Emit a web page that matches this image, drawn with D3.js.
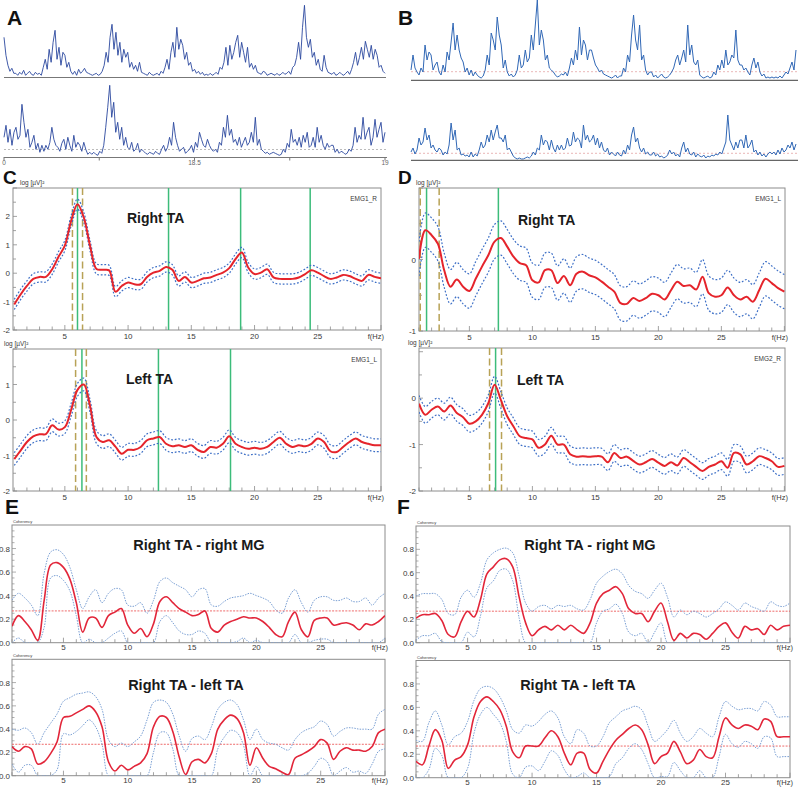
<!DOCTYPE html>
<html><head><meta charset="utf-8">
<script src="https://cdn.jsdelivr.net/npm/d3@7"></script>
<style>body{margin:0;background:#fff}svg{display:block;font-family:"Liberation Sans",Arial,sans-serif}</style>
</head><body><svg id="c" width="798" height="788"></svg>
<script>
// ---------- DATA ----------
// Panel A / B : rectified EMG envelopes (arbitrary units, sampled evenly)
const aTop = [40,22,12,6,9,4, 4,2,5,3,7,2,4,6,3,2,5,3,4,2, 10,18,8,28,15,35,47,18,30,12,25,22,10,15,6, 3,6,2,8,4,6,9,5,4,3,2,3,4,2,3,6, 12,25,15,40,53,28,45,22,35,15,28,20,25,10,15,8,12,6,15,5, 4,3,2,5,3,2,3,4,2,6,4,10, 18,8,25,35,20,50,28,38,32,18,25,12,15,6,8, 4,6,3,5,2,3,2,4,2,3,5,3,10, 8,15,30,12,32,18,25,35,42,20,35,25,15,30,10,14,8, 12,5,4,3,6,5,2,3,4,3,2,4,2,3,5,3,4,6,3,10, 12,20,35,18,50,72,40,30,38,20,25,12,18,8,6,22,10,5, 4,3,5,2,3,5,3,2,4,6,3,8, 15,25,12,20,30,18,36,28,20,32,18,28,22,10,12,6,4];
const aBot = [20,32,15,28,12,25,30,18,22,53,35,20,28,10,15, 22,8,14,5,12,6,12,8,15,30,18,12,10,6,14, 18,8,20,12,6,22,10,15,12,6,15,8,3,5,3, 5,3,2,6,4,12,30,50,72,40,55,25,35,18,30, 12,20,10,8,15,6,8,14,5,8,6,4,3,5,4, 3,6,4,3,8,12,6,10,20,12,35,20,12,6,8, 10,4,6,8,12,5,15,10,25,18,12,10,18,12,8, 6,8,5,15,12,30,20,42,22,28,15,18,12,20,10, 15,20,12,15,25,15,40,12,18,8,6,4,5,3,4, 5,4,3,2,3,8,5,14,10,28,15,18,12,20,10, 22,15,25,10,12,20,10,30,15,22,12,8,14,10,12, 12,5,8,4,6,5,3,4,8,6,12,30,15,22,18, 40,18,25,30,12,20,38,20,28,35,15,25];
const aTimeLabels = ["0","18.5","19"];
const bTop = [10,25,12,8,5,12,8,35,20,28,25,10,15,18,8, 5,15,8,28,20,38,57,30,45,30,22,18,8,12,5, 10,4,8,5,3,2,4,10,25,15,47,40,30,63,45, 35,12,20,8,4,6,3,5,10,25,12,15,30,18,22, 45,30,55,80,35,50,40,20,25,12,10,8,5,3,4, 6,5,8,4,12,22,15,30,20,53,25,40,35,20,30, 30,22,15,12,8,10,6,5,4,3,2,3,5,2,4, 4,12,8,25,18,45,65,40,30,55,20,25,10,5,8, 8,3,5,2,4,6,3,2,3,5,8,12,20,25,15, 22,30,18,55,25,35,18,15,20,5,3,2,3,4,2, 3,8,5,15,10,20,12,30,15,18,25,22,50,20,15, 15,10,12,8,5,15,22,12,18,8,4,6,2,3,2, 3,2,3,2,4,2,5,8,6,12,18,10,30];
const bBot = [8,12,6,10,22,15,18,32,20,25,12,15,10,8,12, 10,5,8,6,15,37,20,30,10,12,5,6,4,5,3, 8,3,6,4,10,18,12,15,25,18,30,20,28,35,22, 22,18,25,10,12,8,4,2,1,2,1,1,2,3,2, 4,8,5,12,10,25,15,20,18,10,20,12,8,15,10, 15,10,12,22,14,15,28,18,22,20,12,35,20,25,18, 20,25,15,22,12,18,10,8,12,5,8,6,4,8,5, 4,10,6,15,10,25,33,18,22,12,8,12,6,8,5, 5,8,4,6,3,4,2,3,5,10,6,8,4,6,3, 12,18,8,12,6,5,8,3,6,4,3,5,2,4,3, 5,4,6,5,8,6,12,18,45,20,15,10,18,12,20, 20,12,25,12,15,20,8,10,5,8,4,6,3,6,8, 6,8,5,10,6,12,8,10,15,12,18,10,16];

// frequency grid (Hz) shared by panels C-F
const freqs = [1,1.5,2,2.5,3,3.5,4,4.5,5,5.5,6,6.5,7,7.5,8,8.5,9,9.5,10,10.5,11,11.5,12,12.5,13,13.5,14,14.5,15,15.5,16,16.5,17,17.5,18,18.5,19,19.5,20,20.5,21,21.5,22,22.5,23,23.5,24,24.5,25,25.5,26,26.5,27,27.5,28,28.5,29,29.5,30];

// Panel C / D : log power spectra (mean) and confidence half-width
const cTopMean = [-1.1,-0.75,-0.45,-0.2,-0.13,-0.13,0.14,0.58,0.97,1.85, 2.43,1.96,0.95,0.15,0.12,0.1,-0.65,-0.45,-0.33,-0.39, -0.39,-0.13,0.02,0.08,0.22,0.12,-0.27,-0.13,-0.33,-0.27, -0.18,-0.15,-0.06,0.02,0.18,0.5,0.73,0.2,-0.03,0.02, 0.14,-0.15,-0.2,-0.2,-0.2,-0.15,-0.03,0.1,0.02,-0.1, -0.2,-0.15,-0.06,-0.1,-0.2,-0.27,-0.06,-0.13,-0.18];
const cBotMean = [-1.1,-0.86,-0.62,-0.46,-0.4,-0.4,-0.15,-0.27,-0.2,0.29, 0.85,1.0,0.38,-0.48,-0.62,-0.57,-0.75,-0.95,-0.84,-0.84, -0.76,-0.57,-0.52,-0.48,-0.67,-0.74,-0.71,-0.76,-0.71,-0.84, -0.9,-0.76,-0.78,-0.67,-0.46,-0.67,-0.76,-0.81,-0.78,-0.81, -0.76,-0.62,-0.5,-0.67,-0.76,-0.71,-0.74,-0.67,-0.52,-0.62, -0.88,-0.9,-0.76,-0.62,-0.52,-0.62,-0.67,-0.71,-0.71];
const dTopMean = [0.01,0.41,0.34,0.22,-0.15,-0.38,-0.28,-0.38,-0.44,-0.27, -0.1,0.06,0.25,0.3,0.18,0.04,-0.05,-0.08,-0.29,-0.32, -0.15,-0.15,-0.33,-0.23,-0.36,-0.2,-0.17,-0.22,-0.25,-0.31, -0.38,-0.45,-0.61,-0.62,-0.54,-0.58,-0.54,-0.48,-0.5,-0.56, -0.43,-0.31,-0.37,-0.36,-0.42,-0.24,-0.47,-0.52,-0.5,-0.39, -0.5,-0.56,-0.52,-0.59,-0.43,-0.27,-0.33,-0.4,-0.45];
const dBotMean = [-0.12,-0.36,-0.25,-0.18,-0.29,-0.16,-0.32,-0.41,-0.55,-0.5, -0.36,-0.11,0.29,-0.04,-0.39,-0.61,-0.82,-0.86,-0.89,-1.07, -1.0,-0.81,-1.0,-1.0,-1.21,-1.26,-1.25,-1.26,-1.25,-1.26, -1.38,-1.18,-1.29,-1.26,-1.35,-1.43,-1.38,-1.31,-1.39,-1.46, -1.38,-1.45,-1.29,-1.38,-1.48,-1.57,-1.48,-1.43,-1.36,-1.5, -1.18,-1.21,-1.43,-1.36,-1.25,-1.29,-1.36,-1.48,-1.46];
const ciHalfWidth = {cTop:0.18, cBot:0.18, dTop:0.24, dBot:0.18};
// marked peak frequencies (green) and band limits (dashed)
const cTopPeaks = [6.0, 13.2, 18.9, 24.4], cTopBand = [5.6, 6.4];
const cBotPeaks = [6.35, 12.4, 18.1],      cBotBand = [5.85, 6.7];
const dTopPeaks = [1.6, 7.3],               dTopBand = [1.1, 2.6];
const dBotPeaks = [7.08],                   dBotBand = [6.6, 7.55];

// Panel E / F : coherence (mean, upper, lower confidence) and significance level
const eTopMean = [0.14,0.23,0.18,0.11,0.02,0.36,0.66,0.68,0.64,0.54, 0.34,0.09,0.21,0.21,0.13,0.23,0.26,0.29,0.15,0.08, 0.12,0.05,0.16,0.35,0.39,0.34,0.29,0.26,0.23,0.24, 0.27,0.12,0.09,0.15,0.18,0.2,0.22,0.21,0.21,0.18, 0.13,0.07,0.05,0.18,0.26,0.11,0.05,0.19,0.21,0.21, 0.15,0.16,0.17,0.15,0.11,0.16,0.15,0.18,0.23];
const eTopUp   = [0.36,0.42,0.38,0.32,0.23,0.59,0.77,0.79,0.75,0.64, 0.45,0.29,0.39,0.45,0.34,0.42,0.46,0.45,0.32,0.31, 0.34,0.25,0.36,0.52,0.55,0.51,0.48,0.45,0.39,0.45, 0.46,0.32,0.31,0.35,0.38,0.39,0.4,0.42,0.4,0.38, 0.35,0.28,0.25,0.38,0.45,0.34,0.26,0.36,0.39,0.39, 0.36,0.36,0.38,0.35,0.35,0.38,0.32,0.38,0.42];
const eTopLo   = [0,0.04,0,0,0,0.13,0.55,0.57,0.53,0.44, 0.23,0,0.03,0,0,0.04,0.08,0.1,0,0, 0,0,0,0.18,0.23,0.17,0.1,0.07,0.07,0.1, 0.08,0,0,0,0,0.01,0.04,0,0.02,0, 0,0,0,0,0.07,0,0,0.02,0.03,0.03, 0,0,0,0,0,0,0,0,0.04];
const eBotMean = [0.25,0.21,0.25,0.23,0.1,0.12,0.19,0.29,0.5,0.51, 0.54,0.57,0.6,0.55,0.42,0.12,0.04,0.09,0.05,0.08, 0.11,0.19,0.42,0.51,0.5,0.38,0.16,0.01,0.12,0.14, 0.11,0.19,0.4,0.48,0.52,0.49,0.37,0.09,0.24,0.15, 0.08,0.06,0.03,0.01,0.15,0.18,0.21,0.25,0.31,0.28, 0.14,0.21,0.24,0.22,0.22,0.21,0.25,0.37,0.4];
const eBotUp   = [0.4,0.39,0.41,0.37,0.27,0.37,0.45,0.53,0.64,0.67, 0.7,0.71,0.72,0.68,0.57,0.31,0.25,0.28,0.25,0.29, 0.34,0.48,0.63,0.65,0.63,0.53,0.34,0.21,0.32,0.34, 0.31,0.42,0.57,0.63,0.65,0.61,0.48,0.31,0.4,0.31, 0.28,0.27,0.24,0.22,0.31,0.37,0.4,0.42,0.47,0.44, 0.34,0.38,0.41,0.41,0.4,0.4,0.4,0.53,0.57];
const eBotLo   = [0.1,0.03,0.09,0.09,0,0,0,0.05,0.36,0.35, 0.38,0.43,0.48,0.42,0.27,0,0,0,0,0, 0,0,0.2,0.37,0.37,0.23,0,0,0,0, 0,0,0.23,0.33,0.39,0.37,0.26,0,0.08,0, 0,0,0,0,0,0,0.02,0.08,0.15,0.12, 0,0.04,0.07,0.03,0.04,0.02,0.1,0.21,0.23];
const fTopMean = [0.21,0.24,0.24,0.25,0.19,0.07,0.05,0.18,0.27,0.22, 0.37,0.59,0.65,0.71,0.72,0.65,0.39,0.17,0.06,0.11, 0.14,0.11,0.15,0.11,0.15,0.11,0.08,0.17,0.34,0.42, 0.45,0.48,0.42,0.29,0.25,0.25,0.18,0.27,0.34,0.18, 0.02,0.08,0.04,0.08,0.07,0.03,0.08,0.14,0.17,0.09, 0.04,0.14,0.11,0.12,0.07,0.15,0.11,0.14,0.15];
const fTopUp   = [0.4,0.42,0.42,0.42,0.37,0.25,0.24,0.39,0.45,0.39, 0.51,0.71,0.77,0.8,0.81,0.77,0.57,0.34,0.27,0.31, 0.32,0.29,0.32,0.31,0.32,0.29,0.28,0.37,0.51,0.57, 0.61,0.63,0.59,0.49,0.44,0.42,0.38,0.45,0.51,0.39, 0.22,0.28,0.24,0.27,0.25,0.22,0.25,0.29,0.35,0.32, 0.28,0.34,0.31,0.29,0.27,0.35,0.32,0.31,0.34];
const fTopLo   = [0.02,0.06,0.06,0.08,0.01,0,0,0,0.09,0.05, 0.23,0.47,0.53,0.62,0.63,0.53,0.21,0,0,0, 0,0,0,0,0,0,0,0,0.17,0.27, 0.29,0.33,0.25,0.09,0.06,0.08,0,0.09,0.17,0, 0,0,0,0,0,0,0,0,0,0, 0,0,0,0,0,0,0,0,0];
const fBotMean = [0.14,0.11,0.27,0.41,0.32,0.08,0.15,0.18,0.28,0.52, 0.65,0.69,0.65,0.58,0.44,0.22,0.17,0.27,0.27,0.27, 0.34,0.4,0.35,0.21,0.11,0.21,0.21,0.07,0.04,0.14, 0.24,0.32,0.37,0.42,0.45,0.41,0.28,0.12,0.18,0.21, 0.31,0.22,0.12,0.15,0.24,0.18,0.17,0.35,0.51,0.45, 0.42,0.45,0.44,0.41,0.5,0.48,0.35,0.35,0.35];
const fBotUp   = [0.32,0.31,0.47,0.57,0.45,0.28,0.35,0.38,0.48,0.66, 0.76,0.78,0.76,0.69,0.57,0.41,0.38,0.45,0.44,0.48, 0.54,0.57,0.51,0.35,0.29,0.41,0.38,0.27,0.27,0.35, 0.47,0.52,0.57,0.59,0.61,0.58,0.44,0.31,0.35,0.41, 0.49,0.38,0.31,0.35,0.42,0.38,0.35,0.52,0.65,0.61, 0.58,0.59,0.59,0.57,0.65,0.62,0.52,0.52,0.52];
const fBotLo   = [0,0,0.07,0.25,0.19,0,0,0,0.08,0.38, 0.54,0.6,0.54,0.47,0.31,0.03,0,0.09,0.1,0.06, 0.14,0.23,0.19,0.07,0,0.01,0.04,0,0,0, 0.01,0.12,0.17,0.25,0.29,0.24,0.12,0,0.01,0.01, 0.13,0.06,0,0,0.06,0,0,0.18,0.37,0.29, 0.26,0.31,0.29,0.25,0.35,0.34,0.18,0.18,0.18];
const sigLevel = 0.27;
const cohTicks = [0,0.2,0.4,0.6,0.8];
const specTitles = ["Right TA","Left TA","Right TA","Left TA"];
const cohTitles = ["Right TA - right MG","Right TA - left TA","Right TA - right MG","Right TA - left TA"];

// ---------- DRAWING ----------
const svg = d3.select("#c");
const defs = svg.append("defs");
const GRID = "#8c8c8c", TXT = "#3a3a3a";

function letter(t, x, y, size){
  svg.append("text").attr("x",x).attr("y",y).attr("font-size",size||21).attr("font-weight","bold").attr("fill","#111").text(t);
}

function trace(data, x0, x1, base, top, maxV, color, width){
  const x = d3.scaleLinear().domain([0, data.length-1]).range([x0, x1]);
  const y = d3.scaleLinear().domain([0, maxV]).range([base, top]);
  svg.append("path").attr("d", d3.line().x((d,i)=>x(i)).y(d=>y(d))(data))
    .attr("fill","none").attr("stroke",color).attr("stroke-width",width).attr("stroke-linejoin","round");
}

// Panel A
letter("A", 7, 25);
svg.append("line").attr("x1",4).attr("x2",386).attr("y1",77.5).attr("y2",77.5).attr("stroke","#777").attr("stroke-width",1);
svg.append("line").attr("x1",4).attr("x2",386).attr("y1",149.5).attr("y2",149.5).attr("stroke","#aaa").attr("stroke-dasharray","2,2").attr("stroke-width",0.8);
trace(aTop, 4, 385, 77.3, 5.3, 72, "#2a479e", 0.9);
trace(aBot, 4, 385, 157.3, 85.3, 72, "#2a479e", 0.9);
svg.append("line").attr("x1",4).attr("x2",387).attr("y1",157.5).attr("y2",157.5).attr("stroke","#777").attr("stroke-width",1.2);
const aTickX = d3.scaleLinear().domain([0,2]).range([4,385]);
[0,0.5,1,1.5,2].forEach(v=>svg.append("line").attr("x1",aTickX(v)).attr("x2",aTickX(v)).attr("y1",157).attr("y2",160.5).attr("stroke","#777"));
aTimeLabels.forEach((t,i)=>svg.append("text").attr("x",aTickX(i)).attr("y",164.5).attr("text-anchor","middle").attr("font-size",6.5).attr("fill","#666").text(t));

// Panel B
letter("B", 398, 25);
svg.append("line").attr("x1",411).attr("x2",798).attr("y1",71.7).attr("y2",71.7).attr("stroke","#e4a4a4").attr("stroke-dasharray","2,2").attr("stroke-width",0.8);
svg.append("line").attr("x1",411).attr("x2",798).attr("y1",153.3).attr("y2",153.3).attr("stroke","#e4a4a4").attr("stroke-dasharray","2,2").attr("stroke-width",0.8);
trace(bTop, 411, 796, 80, 0, 80, "#3168b6", 1);
trace(bBot, 411, 796, 160, 80, 80, "#3168b6", 1);
svg.append("line").attr("x1",411).attr("x2",798).attr("y1",80.3).attr("y2",80.3).attr("stroke","#666").attr("stroke-width",1.2);
svg.append("line").attr("x1",411).attr("x2",798).attr("y1",160.3).attr("y2",160.3).attr("stroke","#666").attr("stroke-width",1.2);

let clipN = 0;
function frameAxes(g, x, y, p, xLabY){
  g.append("rect").attr("x",p.l).attr("y",p.t).attr("width",p.r-p.l).attr("height",p.b-p.t)
    .attr("fill","none").attr("stroke",GRID).attr("stroke-width",1);
  d3.range(1, 31).forEach(f=>{
    if (f < x.domain()[0] || f > x.domain()[1]) return;
    g.append("line").attr("x1",x(f)).attr("x2",x(f)).attr("y1",p.b).attr("y2",p.b-(f%5===0?5:3.5)).attr("stroke",GRID).attr("stroke-width",0.8);
    if (f%5===0 && f<30) g.append("text").attr("x",x(f)).attr("y",xLabY).attr("text-anchor","middle").attr("font-size",8).attr("fill",TXT).text(f);
  });
  g.append("text").attr("x",Math.min(p.r+3,797)).attr("y",xLabY).attr("text-anchor","end").attr("font-size",7.5).attr("fill",TXT).text("f(Hz)");
}
function clip(p){
  const id = "clip"+(clipN++);
  defs.append("clipPath").attr("id",id).append("rect").attr("x",p.l).attr("y",p.t).attr("width",p.r-p.l).attr("height",p.b-p.t);
  return "url(#"+id+")";
}

function spectrum(p){
  const g = svg.append("g");
  const x = d3.scaleLinear().domain(p.xDom).range([p.l, p.r]);
  const y = d3.scaleLinear().domain(p.yDom).range([p.b, p.t]);
  frameAxes(g, x, y, p, p.b+8.5);
  for (let v = Math.ceil(p.yDom[0]*2)/2; v <= p.yDom[1]; v += 0.5){
    const major = Math.abs(v - Math.round(v)) < 1e-6;
    g.append("line").attr("x1",p.l).attr("x2",p.l+(major?4:3)).attr("y1",y(v)).attr("y2",y(v)).attr("stroke",GRID).attr("stroke-width",0.8);
    if (major && v < p.yDom[1]-0.2) g.append("text").attr("x",p.l-3).attr("y",y(v)+3).attr("text-anchor","end").attr("font-size",8).attr("fill",TXT).text(v);
  }
  g.append("text").attr("x",p.unitX).attr("y",p.t-3).attr("font-size",6.5).attr("fill",TXT).text("log [µV]²");
  g.append("text").attr("x",p.r-4).attr("y",p.t+13).attr("text-anchor","end").attr("font-size",6.5).attr("fill",TXT).text(p.chan);
  const cg = g.append("g").attr("clip-path", clip(p));
  p.band.forEach(f=>cg.append("line").attr("x1",x(f)).attr("x2",x(f)).attr("y1",p.t).attr("y2",p.b).attr("stroke","#b8a256").attr("stroke-width",1.5).attr("stroke-dasharray","7,3.5"));
  p.peaks.forEach(f=>cg.append("line").attr("x1",x(f)).attr("x2",x(f)).attr("y1",p.t).attr("y2",p.b).attr("stroke","#3cbc7a").attr("stroke-width",1.5));
  const ln = d3.line().x((d,i)=>x(freqs[i])).y(d=>y(d)).curve(d3.curveCatmullRom);
  [p.ci, -p.ci].forEach(o=>cg.append("path").attr("d", ln(p.mean.map(v=>v+o))).attr("fill","none").attr("stroke","#3d6fc6").attr("stroke-width",1.2).attr("stroke-dasharray","1.8,1.8"));
  cg.append("path").attr("d", ln(p.mean)).attr("fill","none").attr("stroke","#e5242b").attr("stroke-width",2);
  g.append("text").attr("x",p.titleX).attr("y",p.titleY).attr("font-size",14).attr("font-weight","bold").attr("fill","#1a1a1a").text(p.title);
}

letter("C", 3, 184, 19);
letter("D", 398, 184, 19);
spectrum({l:13,r:381,t:188,b:330,xDom:[0.9,30],yDom:[-2,3],mean:cTopMean,ci:ciHalfWidth.cTop,peaks:cTopPeaks,band:cTopBand,title:specTitles[0],titleX:127,titleY:223,chan:"EMG1_R",unitX:20});
spectrum({l:13,r:381,t:349,b:491,xDom:[0.9,30],yDom:[-2,2],mean:cBotMean,ci:ciHalfWidth.cBot,peaks:cBotPeaks,band:cBotBand,title:specTitles[1],titleX:126,titleY:384,chan:"EMG1_L",unitX:4});
spectrum({l:419,r:785,t:188,b:331,xDom:[1,30.05],yDom:[-1,1],mean:dTopMean,ci:ciHalfWidth.dTop,peaks:dTopPeaks,band:dTopBand,title:specTitles[2],titleX:518,titleY:225,chan:"EMG1_L",unitX:416});
spectrum({l:419,r:785,t:348,b:491,xDom:[1,30.05],yDom:[-2,1.08],mean:dBotMean,ci:ciHalfWidth.dBot,peaks:dBotPeaks,band:dBotBand,title:specTitles[3],titleX:517,titleY:385,chan:"EMG2_R",unitX:408});

function coherence(p){
  const g = svg.append("g");
  const x = d3.scaleLinear().domain([1,30]).range([p.l, p.r]);
  const y = d3.scaleLinear().domain([0,1]).range([p.b, p.t]);
  frameAxes(g, x, y, p, p.b+7.5);
  d3.range(0, 20).forEach(k=>{
    const v = k*0.05, major = k%4===0;
    g.append("line").attr("x1",p.l).attr("x2",p.l+(major?4:2.5)).attr("y1",y(v)).attr("y2",y(v)).attr("stroke",GRID).attr("stroke-width",0.7);
  });
  cohTicks.forEach(v=>g.append("text").attr("x",p.l-2).attr("y",y(v)+3).attr("text-anchor","end").attr("font-size",8).attr("fill",TXT).text(v.toFixed(1)));
  g.append("text").attr("x",p.l+1).attr("y",p.t-2).attr("font-size",4).attr("fill",TXT).text("Coherency");
  const cg = g.append("g").attr("clip-path", clip(p));
  const ln = d3.line().x((d,i)=>x(freqs[i])).y(d=>y(d)).curve(d3.curveCatmullRom);
  cg.append("line").attr("x1",p.l).attr("x2",p.r).attr("y1",y(sigLevel)).attr("y2",y(sigLevel)).attr("stroke","#ec5a5a").attr("stroke-width",0.9).attr("stroke-dasharray","2,1.3");
  [p.up, p.lo].forEach(a=>cg.append("path").attr("d", ln(a)).attr("fill","none").attr("stroke","#7a9fd3").attr("stroke-width",1).attr("stroke-dasharray","1.5,1.2"));
  cg.append("path").attr("d", ln(p.mean)).attr("fill","none").attr("stroke","#e2263a").attr("stroke-width",1.6);
  g.append("text").attr("x",p.titleX).attr("y",p.titleY).attr("text-anchor","middle").attr("font-size",14.5).attr("font-weight","bold").attr("fill","#1a1a1a").text(p.title);
}

letter("E", 5, 514);
letter("F", 397, 514);
coherence({l:12,r:385,t:525,b:642.7,mean:eTopMean,up:eTopUp,lo:eTopLo,title:cohTitles[0],titleX:199,titleY:550});
coherence({l:12,r:385,t:659.3,b:775.7,mean:eBotMean,up:eBotUp,lo:eBotLo,title:cohTitles[1],titleX:186,titleY:690});
coherence({l:416,r:790,t:526,b:642.7,mean:fTopMean,up:fTopUp,lo:fTopLo,title:cohTitles[2],titleX:590,titleY:550});
coherence({l:416,r:790,t:660.5,b:777.7,mean:fBotMean,up:fBotUp,lo:fBotLo,title:cohTitles[3],titleX:578,titleY:690});
</script></body></html>
